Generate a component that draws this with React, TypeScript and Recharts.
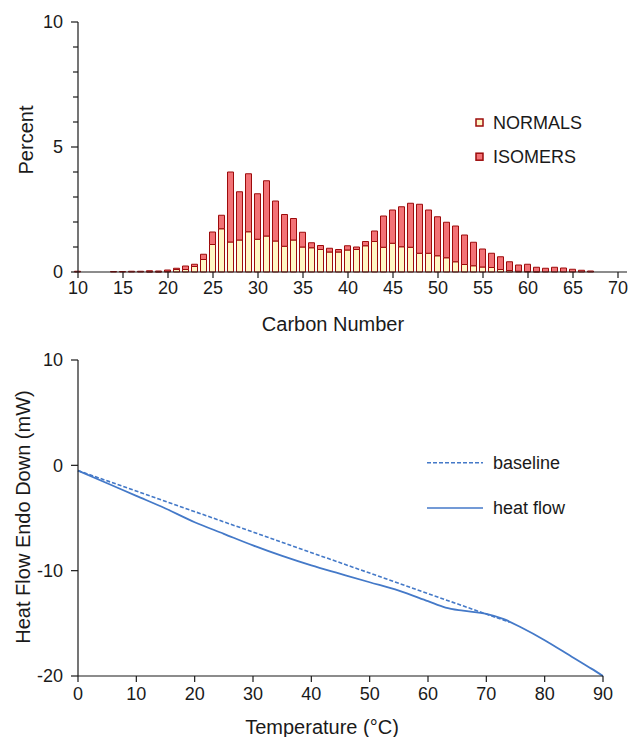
import { BarChart, Bar, XAxis, YAxis, Legend, LineChart, Line } from "recharts";

// carbon number distribution (percent)
const carbonNumbers = [10, 14, 15, 16, 17, 18, 19, 20, 21, 22, 23, 24, 25, 26, 27, 28, 29, 30, 31, 32, 33, 34, 35, 36, 37, 38, 39, 40, 41, 42, 43, 44, 45, 46, 47, 48, 49, 50, 51, 52, 53, 54, 55, 56, 57, 58, 59, 60, 61, 62, 63, 64, 65, 66, 67];
const normalsPct = [0, 0, 0, 0, 0, 0.01, 0.01, 0.03, 0.1, 0.1, 0.22, 0.5, 1.1, 1.73, 1.2, 1.28, 1.61, 1.31, 1.44, 1.24, 1.03, 1.28, 1.0, 0.97, 0.9, 0.8, 0.8, 0.88, 0.9, 1.05, 1.22, 0.99, 1.15, 1.01, 0.99, 0.75, 0.75, 0.65, 0.57, 0.41, 0.3, 0.25, 0.2, 0.18, 0.1, 0.06, 0.03, 0.02, 0.01, 0, 0, 0, 0, 0, 0];
const isomersPct = [0.03, 0.02, 0.02, 0.03, 0.03, 0.04, 0.03, 0.05, 0.05, 0.14, 0.09, 0.21, 0.5, 0.54, 2.8, 1.93, 2.32, 1.82, 2.21, 1.6, 1.27, 0.86, 0.59, 0.2, 0.16, 0.15, 0.1, 0.17, 0.1, 0.17, 0.42, 1.25, 1.33, 1.6, 1.76, 1.96, 1.73, 1.56, 1.42, 1.43, 1.18, 0.94, 0.72, 0.57, 0.51, 0.35, 0.25, 0.29, 0.18, 0.15, 0.19, 0.16, 0.11, 0.07, 0.04];
const carbonTicks = [10, 15, 20, 25, 30, 35, 40, 45, 50, 55, 60, 65, 70];
const percentTicks = [0, 1, 2, 3, 4, 5, 6, 7, 8, 9, 10];

// DSC trace
const flowTemps = [0, 5, 10, 15, 20, 25, 30, 35, 40, 45, 50, 55, 60, 63, 66, 70, 73, 76, 80, 85, 88, 90];
const heatFlow = [-0.5, -1.7, -2.9, -4.1, -5.4, -6.5, -7.6, -8.6, -9.5, -10.3, -11.1, -11.9, -12.9, -13.5, -13.8, -14.1, -14.6, -15.4, -16.6, -18.3, -19.3, -20];
const baseTemps = [0, 74];
const baseFlow = [-0.5, -14.9];
const tempTicks = [0, 10, 20, 30, 40, 50, 60, 70, 80, 90];
const flowTicks = [-20, -10, 0, 10];

const INK = "#1a1a1a";
const BLUE = "#4479c8";
const RED_FILL = "#f27276";
const YELLOW_FILL = "#fff6c4";
const RED_LINE = "#9c0b0b";
const FONT = "'Liberation Sans', Arial, sans-serif";

const barData = carbonNumbers.map((c, i) => ({ c, normals: normalsPct[i], isomers: isomersPct[i] }));
const flowData = flowTemps.map((t, i) => ({ t, v: heatFlow[i] }));
const baseData = baseTemps.map((t, i) => ({ t, v: baseFlow[i] }));

function LeftTick({ x, y, payload, minorEvery }: any) {
  const major = minorEvery ? payload.value % minorEvery === 0 : true;
  const len = major ? 7 : 5;
  return (
    <g>
      <line x1={x - len} x2={x} y1={y} y2={y} stroke={INK} strokeWidth={1.2} />
      {major && (
        <text x={x - 15} y={y} dy="0.35em" textAnchor="end" fontSize={18} fill={INK}>
          {payload.value}
        </text>
      )}
    </g>
  );
}

function BottomTick({ x, y, payload, gap }: any) {
  return (
    <g>
      <line x1={x} x2={x} y1={y} y2={y + 6} stroke={INK} strokeWidth={1.2} />
      <text x={x} y={y + gap} dy="0.35em" textAnchor="middle" fontSize={18} fill={INK}>
        {payload.value}
      </text>
    </g>
  );
}

const title = (text: string, x: number, y: number, rotate = false) => () => (
  <text
    x={x}
    y={y}
    dy="0.35em"
    textAnchor="middle"
    fontSize={20}
    fill={INK}
    transform={rotate ? `rotate(-90 ${x} ${y})` : undefined}
  >
    {text}
  </text>
);

function BarLegend() {
  const items = [
    { name: "NORMALS", fill: YELLOW_FILL, y: 22.5 },
    { name: "ISOMERS", fill: RED_FILL, y: 56.7 },
  ];
  return (
    <svg width={160} height={75}>
      {items.map(it => (
        <g key={it.name}>
          <rect x={6} y={it.y - 3.5} width={7} height={7} fill={it.fill} stroke={RED_LINE} strokeWidth={1.5} />
          <text x={23} y={it.y} dy="0.35em" fontSize={18} fill={INK}>{it.name}</text>
        </g>
      ))}
    </svg>
  );
}

function LineLegend() {
  return (
    <svg width={200} height={80}>
      <line x1={7} x2={63} y1={22.7} y2={22.7} stroke={BLUE} strokeWidth={1.6} strokeDasharray="4 2" />
      <text x={73} y={22.7} dy="0.35em" fontSize={18} fill={INK}>baseline</text>
      <line x1={7} x2={63} y1={68} y2={68} stroke={BLUE} strokeWidth={1.6} />
      <text x={73} y={68} dy="0.35em" fontSize={18} fill={INK}>heat flow</text>
    </svg>
  );
}

export default function App() {
  return (
    <div style={{ position: "absolute", left: 0, top: 0, width: 630, height: 737, background: "#fff", fontFamily: FONT }}>
      <div style={{ position: "absolute", left: 0, top: 0 }}>
        <BarChart width={630} height={340} data={barData} margin={{ top: 22, right: 3, bottom: 28, left: 18 }} barSize={6}>
          <XAxis
            dataKey="c"
            type="number"
            domain={[10, 71]}
            ticks={carbonTicks}
            interval={0}
            height={40}
            stroke={INK}
            strokeWidth={1.2}
            tickSize={0}
            tickMargin={0}
            tick={(p: any) => <BottomTick {...p} gap={16} />}
            label={{ content: title("Carbon Number", 333, 324) }}
          />
          <YAxis
            type="number"
            domain={[0, 10]}
            ticks={percentTicks}
            interval={0}
            width={60}
            stroke={INK}
            strokeWidth={1.2}
            tickSize={0}
            tickMargin={0}
            tick={(p: any) => <LeftTick {...p} minorEvery={5} />}
            label={{ content: title("Percent", 26, 140, true) }}
          />
          <Legend
            layout="horizontal"
            verticalAlign="middle"
            align="center"
            content={() => <BarLegend />}
            wrapperStyle={{ left: 470, top: 100, width: 160, height: 75 }}
          />
          <Bar dataKey="normals" name="NORMALS" stackId="cn" fill={YELLOW_FILL} stroke={RED_LINE} strokeWidth={1} isAnimationActive={false} />
          <Bar dataKey="isomers" name="ISOMERS" stackId="cn" fill={RED_FILL} stroke={RED_LINE} strokeWidth={1} isAnimationActive={false} />
        </BarChart>
      </div>
      <div style={{ position: "absolute", left: 0, top: 340 }}>
        <LineChart width={630} height={397} margin={{ top: 20, right: 27, bottom: 21, left: 18 }}>
          <XAxis
            dataKey="t"
            type="number"
            domain={[0, 90]}
            ticks={tempTicks}
            interval={0}
            height={40}
            stroke={INK}
            strokeWidth={1.2}
            tickSize={0}
            tickMargin={0}
            tick={(p: any) => <BottomTick {...p} gap={18} />}
            label={{ content: title("Temperature (°C)", 322, 387) }}
          />
          <YAxis
            type="number"
            domain={[-20, 10]}
            ticks={flowTicks}
            interval={0}
            width={60}
            stroke={INK}
            strokeWidth={1.2}
            tickSize={0}
            tickMargin={0}
            tick={(p: any) => <LeftTick {...p} />}
            label={{ content: title("Heat Flow Endo Down (mW)", 23, 177, true) }}
          />
          <Legend
            layout="horizontal"
            verticalAlign="middle"
            align="center"
            content={() => <LineLegend />}
            wrapperStyle={{ left: 420, top: 100, width: 200, height: 80 }}
          />
          <Line data={baseData} dataKey="v" name="baseline" type="linear" stroke={BLUE} strokeWidth={1.6} strokeDasharray="4 2" dot={false} isAnimationActive={false} />
          <Line data={flowData} dataKey="v" name="heat flow" type="monotone" stroke={BLUE} strokeWidth={1.8} dot={false} isAnimationActive={false} />
        </LineChart>
      </div>
    </div>
  );
}
